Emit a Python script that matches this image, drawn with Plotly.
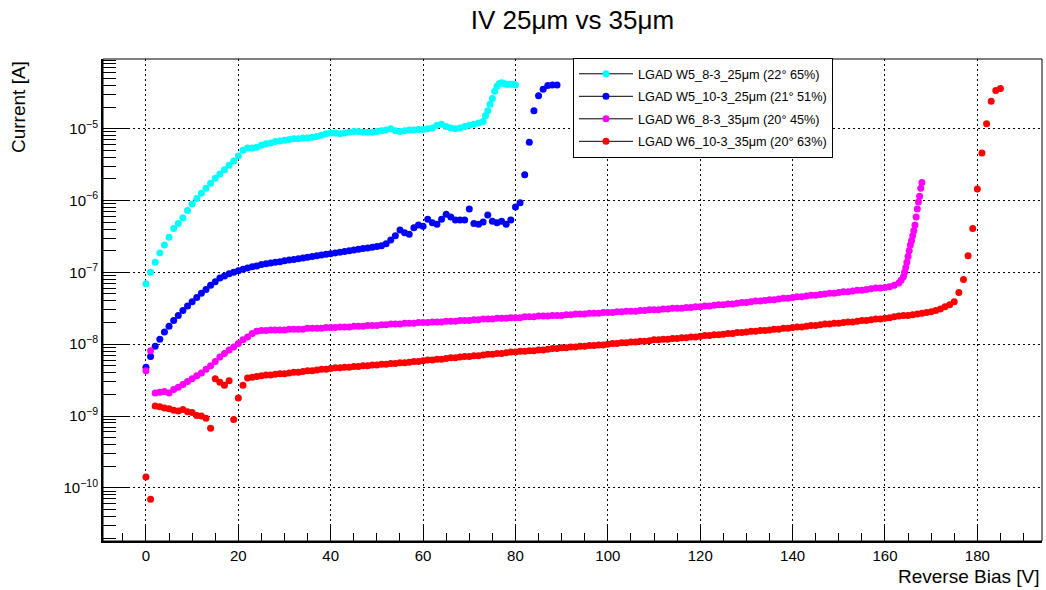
import plotly.graph_objects as go

# ---------------- data (reverse bias [V], current [A]) ----------------
V_w5_8 = list(range(0, 74)) + [73.5, 74, 74.5, 75, 75.5, 76, 76.5, 77, 77.5, 78, 78.5, 79, 79.5, 80]
I_w5_8 = [
    6.92e-8, 1.00e-7, 1.38e-7, 1.86e-7, 2.40e-7, 3.09e-7, 4.07e-7, 4.79e-7, 5.75e-7, 7.24e-7,
    8.91e-7, 1.07e-6, 1.26e-6, 1.48e-6, 1.74e-6, 2.04e-6, 2.34e-6, 2.69e-6, 3.09e-6, 3.55e-6,
    4.17e-6, 5.01e-6, 5.37e-6, 5.37e-6, 5.50e-6, 5.89e-6, 6.17e-6, 6.31e-6, 6.61e-6, 6.76e-6,
    6.92e-6, 7.08e-6, 7.24e-6, 7.24e-6, 7.41e-6, 7.41e-6, 7.59e-6, 7.76e-6, 8.13e-6, 8.51e-6,
    8.71e-6, 8.71e-6, 8.51e-6, 8.71e-6, 8.91e-6, 9.12e-6, 9.12e-6, 8.91e-6, 8.91e-6, 8.91e-6,
    9.12e-6, 9.33e-6, 9.55e-6, 1.00e-5, 9.33e-6, 9.12e-6, 9.33e-6, 9.55e-6, 9.55e-6, 9.77e-6,
    9.77e-6, 1.00e-5, 1.02e-5, 1.12e-5, 1.15e-5, 1.07e-5, 1.02e-5, 1.00e-5, 1.02e-5, 1.07e-5,
    1.12e-5, 1.15e-5, 1.20e-5, 1.26e-5,
    1.51e-5, 1.78e-5, 2.19e-5, 2.63e-5, 3.31e-5, 3.89e-5, 4.27e-5, 4.37e-5, 4.27e-5, 4.17e-5,
    4.17e-5, 4.17e-5, 4.17e-5, 4.07e-5,
]

V_w5_10 = list(range(0, 90))
I_w5_10 = [
    4.79e-9, 6.76e-9, 9.33e-9, 1.17e-8, 1.48e-8, 1.78e-8, 2.14e-8, 2.51e-8, 2.95e-8, 3.39e-8,
    3.89e-8, 4.47e-8, 5.13e-8, 5.75e-8, 6.61e-8, 7.41e-8, 8.32e-8, 8.91e-8, 9.55e-8, 1.00e-7,
    1.05e-7, 1.10e-7, 1.15e-7, 1.20e-7, 1.23e-7, 1.29e-7, 1.32e-7, 1.35e-7, 1.38e-7, 1.41e-7,
    1.45e-7, 1.48e-7, 1.51e-7, 1.55e-7, 1.58e-7, 1.62e-7, 1.66e-7, 1.70e-7, 1.74e-7, 1.78e-7,
    1.82e-7, 1.86e-7, 1.91e-7, 1.95e-7, 2.00e-7, 2.04e-7, 2.09e-7, 2.14e-7, 2.19e-7, 2.24e-7,
    2.29e-7, 2.34e-7, 2.51e-7, 2.82e-7, 3.24e-7, 3.89e-7, 3.55e-7, 3.39e-7, 4.17e-7, 4.57e-7,
    4.37e-7, 5.50e-7, 4.90e-7, 4.68e-7, 5.50e-7, 6.46e-7, 5.89e-7, 5.37e-7, 5.37e-7, 5.37e-7,
    7.59e-7, 4.79e-7, 4.68e-7, 5.01e-7, 6.31e-7, 5.13e-7, 4.90e-7, 5.13e-7, 4.68e-7, 5.37e-7,
    8.13e-7, 9.33e-7, 2.29e-6, 6.46e-6, 1.78e-5, 2.88e-5, 3.55e-5, 3.98e-5, 4.07e-5, 4.07e-5,
]

V_w6_8 = list(range(0, 164)) + [163.5, 164, 164.25, 164.5, 164.75, 165, 165.25, 165.5, 165.75,
                                 166, 166.25, 166.5, 166.75, 167, 167.25, 167.5, 167.75, 168]
I_w6_8 = [
    4.27e-9, 8.13e-9, 2.09e-9, 2.14e-9, 2.19e-9, 2.09e-9, 2.34e-9, 2.51e-9, 2.75e-9, 3.02e-9,
    3.31e-9, 3.63e-9, 3.98e-9, 4.47e-9, 5.01e-9, 5.75e-9, 6.61e-9, 7.41e-9, 8.32e-9, 9.12e-9,
    1.02e-8, 1.15e-8, 1.26e-8, 1.41e-8, 1.51e-8, 1.55e-8, 1.55e-8, 1.58e-8, 1.58e-8, 1.58e-8,
    1.58e-8, 1.62e-8, 1.62e-8, 1.62e-8, 1.62e-8, 1.66e-8, 1.66e-8, 1.66e-8, 1.66e-8, 1.70e-8,
    1.70e-8, 1.70e-8, 1.74e-8, 1.74e-8, 1.74e-8, 1.78e-8, 1.78e-8, 1.78e-8, 1.82e-8, 1.82e-8,
    1.82e-8, 1.86e-8, 1.86e-8, 1.91e-8, 1.91e-8, 1.91e-8, 1.95e-8, 1.95e-8, 1.95e-8, 2.00e-8,
    2.00e-8, 2.00e-8, 2.04e-8, 2.04e-8, 2.04e-8, 2.09e-8, 2.09e-8, 2.09e-8, 2.14e-8, 2.14e-8,
    2.14e-8, 2.19e-8, 2.19e-8, 2.24e-8, 2.24e-8, 2.24e-8, 2.29e-8, 2.29e-8, 2.29e-8, 2.34e-8,
    2.34e-8, 2.34e-8, 2.40e-8, 2.40e-8, 2.40e-8, 2.46e-8, 2.46e-8, 2.46e-8, 2.51e-8, 2.51e-8,
    2.51e-8, 2.57e-8, 2.57e-8, 2.63e-8, 2.63e-8, 2.63e-8, 2.69e-8, 2.69e-8, 2.69e-8, 2.75e-8,
    2.75e-8, 2.75e-8, 2.82e-8, 2.82e-8, 2.88e-8, 2.88e-8, 2.88e-8, 2.95e-8, 2.95e-8, 3.02e-8,
    3.02e-8, 3.02e-8, 3.09e-8, 3.09e-8, 3.16e-8, 3.16e-8, 3.16e-8, 3.24e-8, 3.24e-8, 3.31e-8,
    3.31e-8, 3.39e-8, 3.39e-8, 3.47e-8, 3.55e-8, 3.55e-8, 3.63e-8, 3.63e-8, 3.72e-8, 3.80e-8,
    3.80e-8, 3.89e-8, 3.98e-8, 3.98e-8, 4.07e-8, 4.17e-8, 4.17e-8, 4.27e-8, 4.37e-8, 4.37e-8,
    4.47e-8, 4.57e-8, 4.57e-8, 4.68e-8, 4.79e-8, 4.79e-8, 4.90e-8, 5.01e-8, 5.13e-8, 5.13e-8,
    5.25e-8, 5.37e-8, 5.37e-8, 5.50e-8, 5.62e-8, 5.62e-8, 5.75e-8, 5.89e-8, 6.03e-8, 6.03e-8,
    6.17e-8, 6.31e-8, 6.61e-8, 7.08e-8,
    7.76e-8, 8.71e-8, 1.00e-7, 1.17e-7, 1.38e-7, 1.66e-7, 2.00e-7, 2.40e-7, 2.75e-7,
    3.24e-7, 3.80e-7, 4.57e-7, 5.89e-7, 7.59e-7, 9.55e-7, 1.15e-6, 1.48e-6, 1.78e-6,
]

V_w6_10 = list(range(0, 186))
I_w6_10 = [
    1.41e-10, 6.92e-11, 1.38e-9, 1.35e-9, 1.29e-9, 1.26e-9, 1.20e-9, 1.17e-9, 1.23e-9, 1.15e-9,
    1.12e-9, 1.02e-9, 1.00e-9, 9.33e-10, 6.76e-10, 3.31e-9, 2.95e-9, 2.69e-9, 3.09e-9, 8.91e-10,
    1.78e-9, 2.69e-9, 3.39e-9, 3.47e-9, 3.55e-9, 3.63e-9, 3.72e-9, 3.72e-9, 3.80e-9, 3.89e-9,
    3.89e-9, 3.98e-9, 4.07e-9, 4.07e-9, 4.17e-9, 4.27e-9, 4.27e-9, 4.37e-9, 4.47e-9, 4.47e-9,
    4.57e-9, 4.68e-9, 4.68e-9, 4.79e-9, 4.79e-9, 4.90e-9, 4.90e-9, 5.01e-9, 5.01e-9, 5.13e-9,
    5.13e-9, 5.25e-9, 5.25e-9, 5.37e-9, 5.37e-9, 5.50e-9, 5.50e-9, 5.62e-9, 5.75e-9, 5.75e-9,
    5.89e-9, 6.03e-9, 6.03e-9, 6.17e-9, 6.17e-9, 6.31e-9, 6.46e-9, 6.46e-9, 6.61e-9, 6.76e-9,
    6.76e-9, 6.92e-9, 6.92e-9, 7.08e-9, 7.24e-9, 7.24e-9, 7.41e-9, 7.41e-9, 7.59e-9, 7.76e-9,
    7.76e-9, 7.94e-9, 7.94e-9, 8.13e-9, 8.13e-9, 8.32e-9, 8.32e-9, 8.51e-9, 8.71e-9, 8.71e-9,
    8.91e-9, 8.91e-9, 9.12e-9, 9.12e-9, 9.33e-9, 9.33e-9, 9.55e-9, 9.55e-9, 9.77e-9, 9.77e-9,
    1.00e-8, 1.02e-8, 1.02e-8, 1.05e-8, 1.05e-8, 1.07e-8, 1.07e-8, 1.10e-8, 1.10e-8, 1.12e-8,
    1.15e-8, 1.15e-8, 1.17e-8, 1.17e-8, 1.20e-8, 1.20e-8, 1.23e-8, 1.23e-8, 1.26e-8, 1.26e-8,
    1.29e-8, 1.32e-8, 1.32e-8, 1.35e-8, 1.35e-8, 1.38e-8, 1.41e-8, 1.41e-8, 1.45e-8, 1.45e-8,
    1.48e-8, 1.51e-8, 1.51e-8, 1.55e-8, 1.55e-8, 1.58e-8, 1.62e-8, 1.62e-8, 1.66e-8, 1.66e-8,
    1.70e-8, 1.74e-8, 1.74e-8, 1.78e-8, 1.82e-8, 1.82e-8, 1.86e-8, 1.91e-8, 1.91e-8, 1.95e-8,
    1.95e-8, 2.00e-8, 2.04e-8, 2.04e-8, 2.09e-8, 2.14e-8, 2.14e-8, 2.19e-8, 2.24e-8, 2.24e-8,
    2.29e-8, 2.34e-8, 2.40e-8, 2.46e-8, 2.51e-8, 2.51e-8, 2.57e-8, 2.63e-8, 2.69e-8, 2.75e-8,
    2.82e-8, 2.95e-8, 3.09e-8, 3.31e-8, 3.55e-8, 3.89e-8, 5.25e-8, 7.94e-8, 1.70e-7, 4.07e-7,
    1.45e-6, 4.57e-6, 1.17e-5, 2.40e-5, 3.39e-5, 3.63e-5,
]

series_names = [
    "LGAD W5_8-3_25μm (22° 65%)",
    "LGAD W5_10-3_25μm (21° 51%)",
    "LGAD W6_8-3_35μm (20° 45%)",
    "LGAD W6_10-3_35μm (20° 63%)",
]
series_colors = ["#00FFFF", "#0000FF", "#FF00FF", "#FF0000"]
series_x = [V_w5_8, V_w5_10, V_w6_8, V_w6_10]
series_y = [I_w5_8, I_w5_10, I_w6_8, I_w6_10]

# tick positions of the log current axis
y_major_ticks = [1e-10, 1e-9, 1e-8, 1e-7, 1e-6, 1e-5]
y_major_text = ["10<sup>−10</sup>", "10<sup>−9</sup>", "10<sup>−8</sup>",
                "10<sup>−7</sup>", "10<sup>−6</sup>", "10<sup>−5</sup>"]
y_minor_ticks = [m * 10.0 ** e for e in range(-11, -3) for m in (2, 3, 4, 5, 6, 7, 8, 9)]

FONT = "Liberation Sans, Arial, Helvetica, sans-serif"
Y_RANGE = [-10.74, -4.03]

fig = go.Figure()
for name, col, xs, ys in zip(series_names, series_colors, series_x, series_y):
    assert len(xs) == len(ys), name
    fig.add_trace(go.Scatter(
        x=xs, y=ys, mode="markers", showlegend=False, hoverinfo="x+y",
        marker=dict(symbol="circle", size=7, color=col, line=dict(width=0)),
    ))
# legend entries (ROOT style: black line with coloured marker), placed on the overlay axis
for i, (name, col) in enumerate(zip(series_names, series_colors)):
    fig.add_trace(go.Scatter(
        x=[None], y=[None], mode="lines+markers", name=name, yaxis="y2",
        legendgroup=f"g{i}",
        line=dict(color="black", width=1),
        marker=dict(symbol="circle", size=7, color=col),
    ))

fig.update_layout(
    width=1046, height=590,
    margin=dict(l=103, r=4, t=59, b=49),
    paper_bgcolor="white", plot_bgcolor="white",
    font=dict(family=FONT, color="black"),
    title=dict(text="IV 25μm vs 35μm", x=0.5, xref="paper", xanchor="center",
               y=1 - 20 / 590, yref="container", yanchor="middle",
               font=dict(family=FONT, size=26, color="black")),
    legend=dict(x=0.5005, y=1.002, xanchor="left", yanchor="top",
                bgcolor="white", bordercolor="black", borderwidth=1,
                font=dict(family=FONT, size=12.7, color="black"),
                itemwidth=54, tracegroupgap=3, traceorder="grouped"),
    showlegend=True,
)

fig.update_layout(
    xaxis=dict(
        range=[-9.3, 194.0], tick0=0, dtick=20, ticks="inside", ticklen=16, tickwidth=1,
        tickcolor="black", showline=True, linecolor="black", linewidth=2, mirror=False,
        showgrid=True, gridcolor="black", gridwidth=1, griddash="2px,3px",
        zeroline=False, tickfont=dict(family=FONT, size=15, color="black"),
        minor=dict(ticks="inside", ticklen=8, dtick=5, tick0=0, tickcolor="black",
                   showgrid=False),
    ),
    yaxis=dict(
        type="log", range=Y_RANGE, tickmode="array", tickvals=y_major_ticks,
        ticktext=y_major_text,
        ticks="inside", ticklen=27, tickwidth=1, tickcolor="black",
        showline=True, linecolor="black", linewidth=2, mirror=False,
        showgrid=True, gridcolor="black", gridwidth=1, griddash="2px,3px",
        zeroline=False, tickfont=dict(family=FONT, size=15, color="black"),
    ),
    yaxis2=dict(
        type="log", range=Y_RANGE, overlaying="y", side="left", anchor="x",
        tickmode="array", tickvals=y_minor_ticks, ticks="inside", ticklen=13,
        tickwidth=1, tickcolor="black", showticklabels=False, showgrid=False,
        showline=False, zeroline=False,
    ),
)

# frame
fig.add_shape(type="rect", xref="paper", yref="paper", x0=0, y0=0, x1=1, y1=1,
              line=dict(color="black", width=1), layer="above")

# axis titles (ROOT style: aligned to the axis end)
fig.add_annotation(text="Current [A]", xref="paper", yref="paper",
                   x=(18 - 103) / 939, y=1.0, xanchor="center", yanchor="top",
                   textangle=-90, showarrow=False,
                   font=dict(family=FONT, size=19, color="black"))
fig.add_annotation(text="Reverse Bias [V]", xref="paper", yref="paper",
                   x=1.0, y=(541 - 576) / 482, xanchor="right", yanchor="middle",
                   showarrow=False, font=dict(family=FONT, size=19, color="black"))

fig.write_html("out.html")
